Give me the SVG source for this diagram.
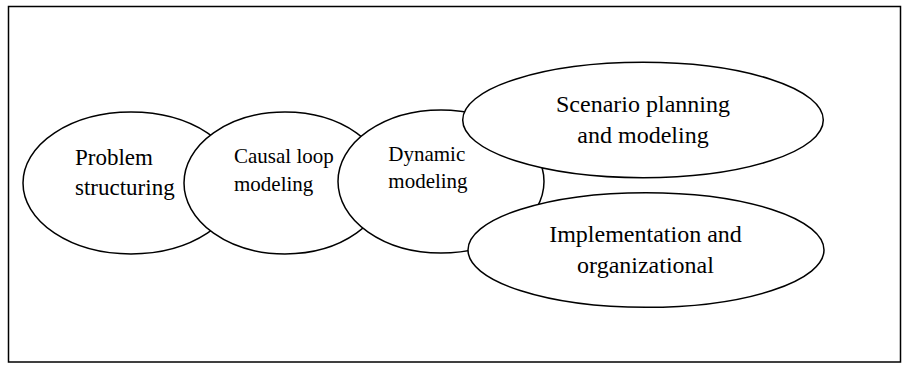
<svg xmlns="http://www.w3.org/2000/svg" width="902" height="365" viewBox="0 0 902 365">
<style>
.n{fill:#fff;stroke:#000;stroke-width:1.5}
.t{font-family:"Liberation Serif","Times New Roman",serif;fill:#000}
</style>
<rect x="0" y="0" width="902" height="365" fill="#fff"/>
<rect x="8.5" y="6.5" width="892" height="355.5" fill="none" stroke="#000" stroke-width="1.5"/>
<g id="connectors"></g>
<g id="problem">
<ellipse class="n" cx="131" cy="183" rx="108" ry="71"/>
<text class="t" font-size="23" x="75" y="165">Problem</text>
<text class="t" font-size="23" x="75" y="195">structuring</text>
</g>
<g id="causal">
<ellipse class="n" cx="285" cy="183" rx="101" ry="71"/>
<text class="t" font-size="21" x="234" y="163">Causal loop</text>
<text class="t" font-size="21" x="234" y="190.5">modeling</text>
</g>
<g id="dynamic">
<ellipse class="n" cx="441" cy="181.5" rx="103" ry="71.5"/>
<text class="t" font-size="21" x="388.3" y="161">Dynamic</text>
<text class="t" font-size="21" x="388.3" y="188.3">modeling</text>
</g>
<g id="scenario">
<ellipse class="n" cx="643" cy="120" rx="180.3" ry="57.7"/>
<text class="t" font-size="24" x="643" y="111.7" text-anchor="middle">Scenario planning</text>
<text class="t" font-size="24" x="643" y="143.3" text-anchor="middle">and modeling</text>
</g>
<g id="implementation">
<ellipse class="n" cx="646" cy="250" rx="178" ry="57.3"/>
<text class="t" font-size="24" x="645.5" y="241.7" text-anchor="middle">Implementation and</text>
<text class="t" font-size="24" x="645.5" y="273.3" text-anchor="middle">organizational</text>
</g>
</svg>
